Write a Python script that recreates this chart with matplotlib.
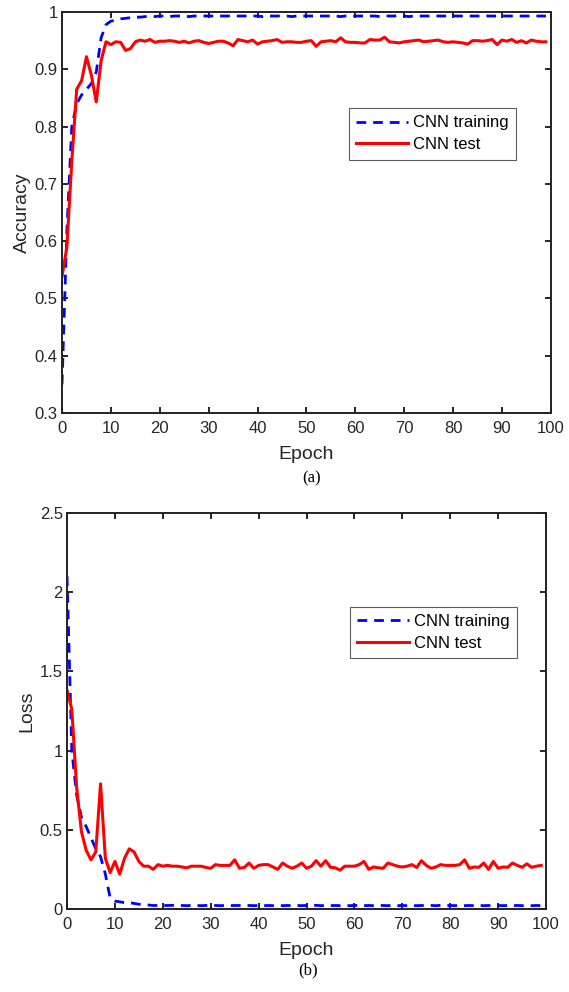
import numpy as np
import matplotlib
matplotlib.use("Agg")
import matplotlib.pyplot as plt

plt.rcParams['font.family'] = ['Liberation Sans', 'DejaVu Sans']

epochs = np.arange(100)

# accuracy, training
acc_train = [0.35, 0.62, 0.80, 0.84, 0.855, 0.865, 0.875, 0.895, 0.955, 0.978,
             0.984, 0.986, 0.988, 0.989, 0.990, 0.991, 0.991, 0.992, 0.992, 0.992,
             0.993, 0.993, 0.992, 0.993, 0.993, 0.993, 0.992, 0.993, 0.993, 0.993,
             0.993, 0.993, 0.993, 0.993, 0.993, 0.993, 0.993, 0.993, 0.993, 0.993,
             0.993, 0.992, 0.993, 0.993, 0.993, 0.993, 0.993, 0.992, 0.993, 0.993,
             0.993, 0.993, 0.993, 0.993, 0.993, 0.993, 0.993, 0.992, 0.993, 0.993,
             0.993, 0.993, 0.993, 0.993, 0.993, 0.992, 0.993, 0.993, 0.993, 0.994,
             0.993, 0.992, 0.993, 0.993, 0.993, 0.993, 0.993, 0.993, 0.993, 0.993,
             0.993, 0.993, 0.993, 0.993, 0.993, 0.993, 0.993, 0.993, 0.993, 0.993,
             0.993, 0.993, 0.993, 0.993, 0.993, 0.993, 0.993, 0.993, 0.993, 0.993]

# accuracy, test
acc_test = [0.538, 0.59, 0.74, 0.865, 0.88, 0.922, 0.89, 0.843, 0.915, 0.948,
            0.943, 0.948, 0.947, 0.933, 0.936, 0.948, 0.951, 0.949, 0.952, 0.947,
            0.949, 0.949, 0.950, 0.949, 0.947, 0.949, 0.946, 0.949, 0.950, 0.947,
            0.945, 0.947, 0.949, 0.949, 0.946, 0.941, 0.952, 0.950, 0.948, 0.951,
            0.944, 0.948, 0.949, 0.950, 0.952, 0.947, 0.948, 0.948, 0.947, 0.947,
            0.949, 0.950, 0.940, 0.948, 0.949, 0.950, 0.948, 0.955, 0.948, 0.947,
            0.947, 0.946, 0.946, 0.952, 0.951, 0.951, 0.956, 0.948, 0.947, 0.946,
            0.948, 0.949, 0.950, 0.951, 0.948, 0.949, 0.950, 0.951, 0.948, 0.947,
            0.948, 0.947, 0.946, 0.944, 0.950, 0.950, 0.949, 0.950, 0.952, 0.943,
            0.951, 0.949, 0.952, 0.947, 0.950, 0.946, 0.951, 0.949, 0.948, 0.948]

# loss, training
loss_train = [2.10, 1.00, 0.72, 0.58, 0.52, 0.45, 0.38, 0.33, 0.22, 0.07,
              0.05, 0.045, 0.04, 0.04, 0.035, 0.03, 0.028, 0.025, 0.022, 0.022,
              0.022, 0.022, 0.023, 0.022, 0.022, 0.021, 0.022, 0.022, 0.021, 0.022,
              0.021, 0.022, 0.021, 0.022, 0.021, 0.022, 0.022, 0.021, 0.022, 0.021,
              0.022, 0.021, 0.022, 0.021, 0.022, 0.021, 0.022, 0.021, 0.022, 0.021,
              0.022, 0.021, 0.023, 0.021, 0.022, 0.021, 0.022, 0.021, 0.022, 0.021,
              0.022, 0.023, 0.021, 0.022, 0.021, 0.022, 0.022, 0.021, 0.023, 0.021,
              0.022, 0.021, 0.022, 0.021, 0.022, 0.021, 0.022, 0.021, 0.023, 0.021,
              0.022, 0.021, 0.022, 0.021, 0.022, 0.021, 0.022, 0.021, 0.022, 0.021,
              0.022, 0.021, 0.022, 0.021, 0.022, 0.021, 0.022, 0.021, 0.022, 0.021]

# loss, test
loss_test = [1.38, 1.26, 0.77, 0.49, 0.37, 0.31, 0.36, 0.79, 0.32, 0.23,
             0.30, 0.22, 0.32, 0.38, 0.36, 0.30, 0.27, 0.27, 0.25, 0.28,
             0.27, 0.275, 0.27, 0.27, 0.265, 0.26, 0.27, 0.27, 0.27, 0.262,
             0.257, 0.28, 0.275, 0.275, 0.275, 0.31, 0.257, 0.262, 0.29, 0.257,
             0.275, 0.28, 0.28, 0.265, 0.25, 0.29, 0.27, 0.257, 0.27, 0.29,
             0.257, 0.27, 0.305, 0.27, 0.305, 0.263, 0.26, 0.245, 0.27, 0.27,
             0.27, 0.28, 0.30, 0.25, 0.265, 0.26, 0.257, 0.29, 0.28, 0.27,
             0.265, 0.27, 0.28, 0.262, 0.305, 0.275, 0.257, 0.265, 0.28, 0.275,
             0.275, 0.275, 0.28, 0.31, 0.257, 0.265, 0.263, 0.29, 0.25, 0.30,
             0.257, 0.265, 0.263, 0.29, 0.275, 0.263, 0.285, 0.263, 0.27, 0.275]

txt = '#262626'
fig = plt.figure(figsize=(5.69, 9.92), dpi=100)
ax1 = fig.add_axes([0.109, 0.5837, 0.859, 0.4042])
ax2 = fig.add_axes([0.1178, 0.0837, 0.8418, 0.3992])


def style(ax, ylabel):
    ax.set_xlim(0, 100)
    ax.set_xticks(range(0, 101, 10))
    ax.set_xlabel('Epoch', fontsize=14, color=txt, labelpad=7)
    ax.set_ylabel(ylabel, fontsize=14, color=txt, labelpad=3)
    ax.tick_params(direction='in', top=True, right=True, length=4, width=1.2,
                   labelsize=12, labelcolor=txt)
    ax.tick_params(axis='x', pad=6)
    ax.tick_params(axis='y', pad=3)
    for s in ax.spines.values():
        s.set_linewidth(1.4)
        s.set_color('#222222')


def add_legend(ax, anchor):
    leg = ax.legend(loc='upper left', bbox_to_anchor=anchor, fontsize=12, frameon=True,
                    fancybox=False, edgecolor='#333333', handlelength=3.1, borderpad=0.45,
                    labelspacing=0.4, handletextpad=0.3, borderaxespad=0)
    leg.get_frame().set_linewidth(0.8)


ax1.plot(epochs, acc_train, '--', color='#0000ff', lw=2.0, dashes=(3.5, 2.5), label='CNN training')
ax1.plot(epochs, acc_test, '-', color='#ff0000', lw=2.2, label='CNN test')
ax1.set_ylim(0.3, 1.0)
ax1.set_yticks([0.3, 0.4, 0.5, 0.6, 0.7, 0.8, 0.9, 1.0])
ax1.set_yticklabels(['0.3', '0.4', '0.5', '0.6', '0.7', '0.8', '0.9', '1'])
style(ax1, 'Accuracy')
add_legend(ax1, (0.587, 0.761))

ax2.plot(epochs, loss_train, '--', color='#0000ff', lw=2.0, dashes=(3.5, 2.5), label='CNN training')
ax2.plot(epochs, loss_test, '-', color='#ff0000', lw=2.2, label='CNN test')
ax2.set_ylim(0, 2.5)
ax2.set_yticks([0, 0.5, 1, 1.5, 2, 2.5])
ax2.set_yticklabels(['0', '0.5', '1', '1.5', '2', '2.5'])
style(ax2, 'Loss')
add_legend(ax2, (0.59, 0.763))

fig.text(0.547, 1 - 478 / 992, '(a)', ha='center', va='center', fontsize=12,
         family=['Liberation Serif', 'DejaVu Serif'])
fig.text(0.541, 1 - 970 / 992, '(b)', ha='center', va='center', fontsize=12,
         family=['Liberation Serif', 'DejaVu Serif'])

fig.savefig('out.png', dpi=100)
